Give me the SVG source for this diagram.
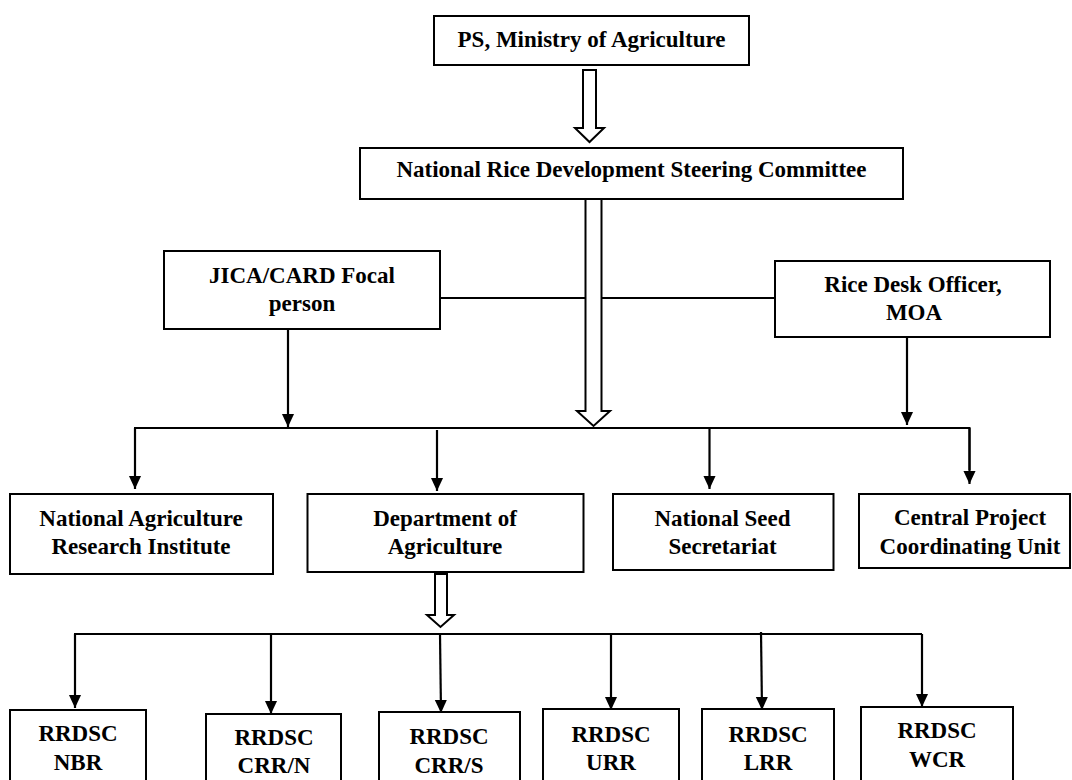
<svg xmlns="http://www.w3.org/2000/svg" width="1072" height="780" viewBox="0 0 1072 780">
<style>
.box{fill:#fff;stroke:#000;stroke-width:2}
.t{font-family:"Liberation Serif","Times New Roman",serif;font-weight:bold;font-size:23px;fill:#000;text-anchor:middle}
.ln{fill:none;stroke:#000;stroke-width:2}
.ar{fill:none;stroke:#000;stroke-width:2.2;marker-end:url(#ah)}
.hol{fill:#fff;stroke:#000;stroke-width:2;stroke-linejoin:miter}
</style>
<defs>
<marker id="ah" markerUnits="userSpaceOnUse" markerWidth="13" markerHeight="14" refX="14" refY="6.5" orient="auto" viewBox="0 0 14 13">
<path d="M0,0 L14,6.5 L0,13 z" fill="#000"/>
</marker>
</defs>
<rect width="1072" height="780" fill="#fff"/>
<g id="connectors">
<line class="ln" x1="440" y1="298" x2="775" y2="298"/>
<polygon class="hol" points="583,70 596,70 596,128 604,128 589.5,142 575,128 583,128"/>
<polygon class="hol" points="585.5,199 601.5,199 601.5,411 610,411 593.5,426 577,411 585.5,411"/>
<line class="ar" x1="288" y1="329" x2="288" y2="427"/>
<line class="ar" x1="907" y1="337" x2="907" y2="425"/>
<polyline class="ln" points="135,489 135,428 969.5,428 969.5,470"/>
<line class="ar" x1="135" y1="428" x2="135" y2="489"/>
<line class="ar" x1="437" y1="430" x2="437" y2="491"/>
<line class="ar" x1="709.5" y1="428" x2="709.5" y2="489"/>
<line class="ar" x1="969.5" y1="428" x2="969.5" y2="484"/>
<polygon class="hol" points="435,574 447,574 447,615 454,615 440.5,627 427,615 435,615"/>
<line class="ln" x1="74" y1="634" x2="922" y2="634"/>
<line class="ar" x1="75" y1="634" x2="75" y2="708"/>
<line class="ar" x1="271" y1="634" x2="271" y2="714"/>
<line class="ar" x1="440" y1="634" x2="441" y2="713"/>
<line class="ar" x1="611" y1="634" x2="611" y2="710"/>
<line class="ar" x1="761" y1="632" x2="762" y2="710"/>
<line class="ar" x1="922" y1="634" x2="922" y2="707"/>
</g>
<g id="ps">
<rect class="box" x="434" y="16" width="315" height="49"/>
<text class="t" x="591.5" y="47">PS, Ministry of Agriculture</text>
</g>
<g id="nrdsc">
<rect class="box" x="360" y="148" width="543" height="51"/>
<text class="t" x="631.5" y="177">National Rice Development Steering Committee</text>
</g>
<g id="jica">
<rect class="box" x="164" y="251" width="276" height="78"/>
<text class="t" x="302" y="283">JICA/CARD Focal</text>
<text class="t" x="302" y="311">person</text>
</g>
<g id="ricedesk">
<rect class="box" x="775" y="261" width="275" height="76"/>
<text class="t" x="913" y="292">Rice Desk Officer,</text>
<text class="t" x="914" y="320">MOA</text>
</g>
<g id="nari">
<rect class="box" x="10" y="494" width="263" height="80"/>
<text class="t" x="141" y="526">National Agriculture</text>
<text class="t" x="141" y="554">Research Institute</text>
</g>
<g id="doa">
<rect class="box" x="307.5" y="494" width="276" height="78"/>
<text class="t" x="445" y="526">Department of</text>
<text class="t" x="445" y="554">Agriculture</text>
</g>
<g id="nss">
<rect class="box" x="613" y="494" width="220.5" height="76"/>
<text class="t" x="722.5" y="526">National Seed</text>
<text class="t" x="722.5" y="554">Secretariat</text>
</g>
<g id="cpcu">
<rect class="box" x="859" y="494" width="211" height="74"/>
<text class="t" x="970" y="525">Central Project</text>
<text class="t" x="970" y="554">Coordinating Unit</text>
</g>
<g id="nbr">
<rect class="box" x="10" y="710" width="136" height="90"/>
<text class="t" x="78" y="741">RRDSC</text>
<text class="t" x="78" y="770">NBR</text>
</g>
<g id="crrn">
<rect class="box" x="206" y="714" width="135" height="90"/>
<text class="t" x="274" y="745">RRDSC</text>
<text class="t" x="274" y="773">CRR/N</text>
</g>
<g id="crrs">
<rect class="box" x="379" y="712" width="141" height="90"/>
<text class="t" x="449" y="744">RRDSC</text>
<text class="t" x="449" y="773">CRR/S</text>
</g>
<g id="urr">
<rect class="box" x="543" y="709" width="136" height="90"/>
<text class="t" x="611" y="742">RRDSC</text>
<text class="t" x="611" y="770">URR</text>
</g>
<g id="lrr">
<rect class="box" x="702" y="709" width="132" height="90"/>
<text class="t" x="768" y="742">RRDSC</text>
<text class="t" x="768" y="770">LRR</text>
</g>
<g id="wcr">
<rect class="box" x="861" y="707" width="152" height="90"/>
<text class="t" x="937" y="738">RRDSC</text>
<text class="t" x="937" y="767">WCR</text>
</g>
</svg>
